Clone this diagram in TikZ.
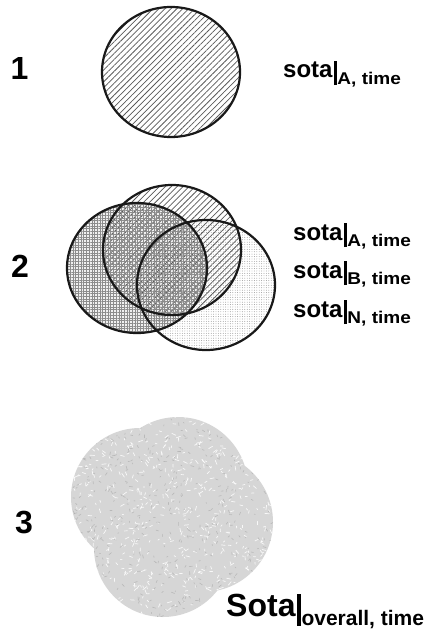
\documentclass[tikz,border=0pt]{standalone}
\usepackage{fontspec}
\setmainfont{Liberation Sans}
\usetikzlibrary{patterns.meta}
% #1 main text, #2 subscript, #3 main size, #4 sub size, #5 sub x-stretch
\newcommand{\sotalab}[5]{\fontsize{#3}{#3}\selectfont\bfseries #1\kern1pt\rule[-0.3em]{0.13em}{0.99em}\kern0.8pt\raisebox{-0.29em}{\scalebox{#5}[1]{\fontsize{#4}{#4}\selectfont #2}}}
\tikzset{
  num/.style={font=\fontsize{32}{32}\selectfont\bfseries, anchor=base, inner sep=0pt},
  outl/.style={line width=2.2pt, draw=black!90},
  lab/.style={anchor=base west, inner sep=0pt},
  hatchA/.style={pattern={Lines[angle=45,distance=4.2pt,line width=0.75pt]},pattern color=black!65},
}
\begin{document}
\begin{tikzpicture}[x=1pt,y=-1pt]
\useasboundingbox (0,0) rectangle (433,631);
% ---------- panel 1
\fill[hatchA] (171,72) ellipse [x radius=69, y radius=65];
\draw[outl] (171,72) ellipse [x radius=69, y radius=65];
\node[num] (n1) at (19.5,80) {1};
\node[lab] (l1) at (283,78) {\sotalab{sota}{A, time}{24}{17}{1.12}};
% ---------- panel 2
\fill[black!6] (137,268) ellipse [x radius=70, y radius=65];
\fill[pattern={Dots[distance=2.4pt,radius=0.45pt]},pattern color=black!45] (206,285) ellipse [x radius=69, y radius=65];
\fill[hatchA] (172,250) ellipse [x radius=69, y radius=65];
\fill[pattern={Hatch[angle=0,distance=2.7pt,line width=0.5pt]},pattern color=black!45] (137,268) ellipse [x radius=70, y radius=65];
\draw[outl] (206,285) ellipse [x radius=69, y radius=65];
\draw[outl] (172,250) ellipse [x radius=69, y radius=65];
\draw[outl] (137,268) ellipse [x radius=70, y radius=65];
\node[num] (n2) at (20,277) {2};
\node[lab] (la) at (293,240) {\sotalab{sota}{A, time}{24}{17}{1.12}};
\node[lab] (lb) at (293,278) {\sotalab{sota}{B, time}{24}{17}{1.12}};
\node[lab] (ln) at (293,317) {\sotalab{sota}{N, time}{24}{17}{1.12}};
% ---------- panel 3
\begin{scope}
\clip (178,487) circle [radius=70] (140,497) circle [radius=69] (203,522) circle [radius=70] (163,548) circle [radius=69];
\fill[black!16] (60,405) rectangle (285,625);
\pgfmathsetseed{11}
\foreach \i in {1,...,700}{
  \pgfmathsetmacro{\xa}{70+205*rnd}
  \pgfmathsetmacro{\ya}{412+210*rnd}
  \pgfmathsetmacro{\an}{360*rnd}
  \pgfmathsetmacro{\le}{1.5+3*rnd}
  \draw[white, line width=0.7pt, opacity=0.85, line cap=round] (\xa,\ya) -- ++(\an:\le);
}
\foreach \i in {1,...,500}{
  \pgfmathsetmacro{\xa}{70+205*rnd}
  \pgfmathsetmacro{\ya}{412+210*rnd}
  \pgfmathsetmacro{\an}{360*rnd}
  \pgfmathsetmacro{\le}{1+2.5*rnd}
  \draw[black!32, line width=0.6pt, opacity=0.7, line cap=round] (\xa,\ya) -- ++(\an:\le);
}
\end{scope}
\node[num] (n3) at (24,533) {3};
\node[lab] (l3) at (226,616) {\sotalab{Sota}{overall, time}{32}{21}{1}};
\end{tikzpicture}
\end{document}
